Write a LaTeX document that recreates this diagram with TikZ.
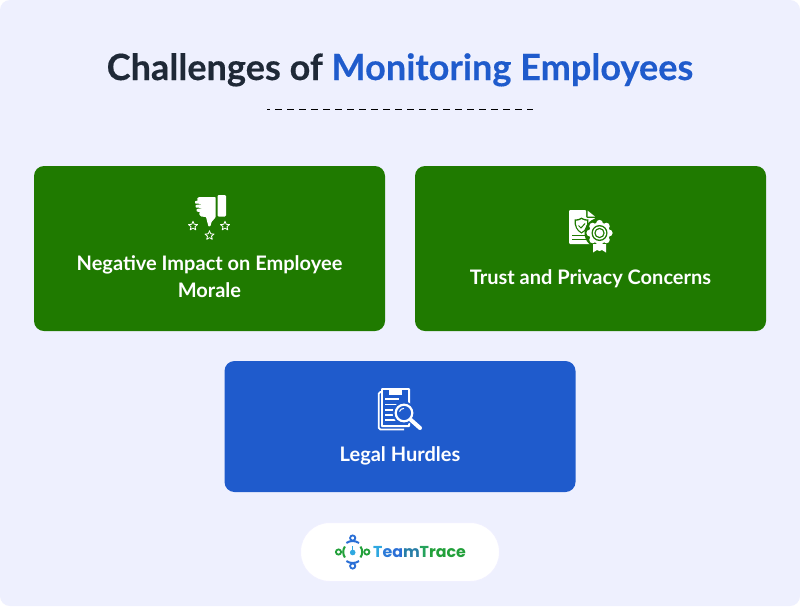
\documentclass[tikz,border=0pt]{standalone}
\usepackage{fontspec}
\setmainfont{Lato}
\newfontfamily\logofont{Poppins}
\newfontfamily\ttlfont[BoldFeatures={FakeBold=0.35}]{Lato}
\definecolor{bgc}{HTML}{EEF0FE}
\definecolor{grn}{HTML}{1F7A00}
\definecolor{blu}{HTML}{1F5BCC}
\definecolor{ttl}{HTML}{1F2937}
\definecolor{lgreen}{HTML}{22A03A}
\definecolor{lblue}{HTML}{2A6FD6}
\definecolor{lcyan}{HTML}{2FA8E0}
\tikzset{
 card/.style={rounded corners=10pt,inner sep=0pt},
 cardtext/.style={text=white,font=\bfseries\fontsize{20}{27}\selectfont,align=flush center,text width=330pt,inner sep=0pt,anchor=base},
 ico/.style={fill=white,draw=none},
}
\begin{document}
\begin{tikzpicture}[x=1pt,y=-1pt]
\useasboundingbox (0,0) rectangle (800,606);
\fill[white] (0,0) rectangle (800,606);
\fill[bgc,rounded corners=10pt] (0,0) rectangle (800,606);
% title
\node[inner sep=0pt,anchor=base,font=\ttlfont\bfseries\fontsize{36.1}{40}\selectfont,text=ttl] (title) at (400,80) {Challenges of \textcolor{blu}{Monitoring Employees}};
\coordinate (dl) at (267,109);
\coordinate (dr) at (533,109);
\draw[black,line width=1pt,dash pattern=on 6.5pt off 5.5pt,dash phase=4pt] (dl) -- (dr);
% cards
\fill[grn,card] (34,166) rectangle (385,331);
\fill[grn,card] (415,166) rectangle (766,331);
\fill[blu,card] (224.5,361) rectangle (575.5,492);
\node[cardtext] (t1) at (209.5,270) {Negative Impact on Employee\\Morale};
\node[cardtext] (t2) at (590.5,284) {Trust and Privacy Concerns};
\node[cardtext] (t3) at (400,461) {Legal Hurdles};
% thumb icon
\fill[ico,rounded corners=1.2pt] (217.5,195) rectangle (226,216.5);
\fill[ico,rounded corners=.6pt] (215.5,197) -- (199,197) -- (197,198.5) -- (198,200.5) -- (195,201.2) -- (195,203.5) -- (203,204) -- (195.5,205) -- (195.5,207.5) -- (203,208) -- (196.5,209) -- (196.5,211.5) -- (200,212) -- (199,214) -- (201,216.5) -- (206,217) -- (207,221) -- (208.5,226.5) -- (210.5,226) -- (211.5,222) -- (215.5,217.5) -- cycle;
\foreach \c in {(193,226),(209.5,235.5),(225,226)}{
 \draw[white,line width=.8pt,line join=round,shift={\c}] (90:-4.8) -- (126:-2.1) -- (162:-4.8) -- (198:-2.1) -- (234:-4.8) -- (270:-2.1) -- (306:-4.8) -- (342:-2.1) -- (18:-4.8) -- (54:-2.1) -- cycle;
}
% certificate icon
\fill[ico,rounded corners=1pt] (569,210) -- (586,210) -- (586,218) -- (595,218) -- (595,244) -- (569,244) -- cycle;
\fill[ico] (587.5,210.5) -- (595,216.5) -- (587.5,216.5) -- cycle;
\fill[grn] (574.5,219.5) .. controls (578,219.5) and (580,218.5) .. (581.5,217.5) .. controls (583,218.5) and (585,219.5) .. (588.5,219.5) .. controls (589,226) and (586.5,231) .. (581.5,233.5) .. controls (576.5,231) and (574,226) .. (574.5,219.5) -- cycle;
\fill[white] (576,220.8) .. controls (578.5,220.8) and (580,220) .. (581.5,219.2) .. controls (583,220) and (584.5,220.8) .. (587,220.8) .. controls (587.3,226) and (585.5,230) .. (581.5,232) .. controls (577.5,230) and (575.7,226) .. (576,220.8) -- cycle;
\draw[grn,line width=1pt] (578.5,225.5) -- (581,228) -- (585,223.5);
\draw[grn,line width=1.1pt] (572,235.5) -- (590,235.5);
\draw[grn,line width=1.1pt] (572,239.5) -- (590,239.5);
\fill[grn] (599.5,233) circle (15);
\fill[ico] (593,244) -- (593,252.5) -- (597,250) -- (599.5,251) -- (602,250) -- (606,252.5) -- (606,244) -- cycle;
\fill[ico] (599.5,233) circle (10.5);
\foreach \a in {0,45,...,315}{\fill[ico] (599.5,233) ++(\a:9.7) circle (3.4);}
\fill[grn] (599.5,233) circle (8);
\fill[ico] (599.5,233) circle (6.6);
\fill[grn] (599.5,233) circle (5.2);
\fill[ico] (599.5,233) circle (3.8);
% legal icon
\draw[white,line width=1.8pt,rounded corners=1.5pt] (381,392) -- (378.8,392) -- (378.8,429.5) -- (404,429.5);
\fill[ico,rounded corners=1pt] (381,388) -- (410,388) -- (410,427) -- (381,427) -- cycle;
\fill[blu] (383,390) rectangle (408,425);
\fill[ico] (389,388) -- (389,395) -- (402,395) -- (402,388) -- cycle;
\foreach \y/\e in {398/399,403.5/397,409/394,414/394,419/396}{\fill[ico] (384.5,\y) rectangle (\e,\y+1.5);}
\fill[blu] (404,413) circle (11.5);
\draw[white,line width=2.2pt] (404,413) circle (8.3);
\draw[white,line width=1pt] (399.5,411.5) arc (200:270:4.8);
\draw[white,line width=4pt,line cap=round] (411,420) -- (420,428);
% logo pill
\fill[white,draw=blue!6,line width=1pt,rounded corners=29pt] (300.5,522.5) rectangle (499.5,581.5);
\node[inner sep=0pt,anchor=base west,font=\logofont\bfseries\fontsize{15.8}{20}\selectfont] (logo) at (373,557.5) {\textcolor{lcyan}{T}\textcolor{lblue!80!lcyan}{e}\textcolor{lblue}{a}\textcolor{lblue!70!lgreen}{m}\textcolor{lgreen!80!lcyan}{T}\textcolor{lgreen}{r}\textcolor{lgreen}{a}\textcolor{lgreen}{c}\textcolor{lgreen}{e}};
\coordinate (lc) at (352.7,552);
\draw[lblue,line width=2pt] (lc) ++(235:11) arc (235:305:11);
\draw[lblue,line width=2pt] (lc) ++(55:11) arc (55:125:11);
\draw[lgreen,line width=2pt] (lc) ++(145:9.5) arc (145:215:9.5);
\draw[lgreen,line width=2pt] (lc) ++(-35:9.5) arc (-35:35:9.5);
\draw[lblue,line width=1.8pt] (352.7,538) circle (2.6);
\draw[lblue,line width=1.8pt] (352.7,566) circle (2.6);
\draw[lgreen,line width=1.8pt] (338.5,552) circle (2.6);
\draw[lgreen,line width=1.8pt] (366.8,552) circle (2.6);
\fill[lcyan] (352.7,552.5) circle (2.8);
\draw[lcyan,line width=1pt] (352.7,552) -- (352.7,546);
\end{tikzpicture}
\end{document}
